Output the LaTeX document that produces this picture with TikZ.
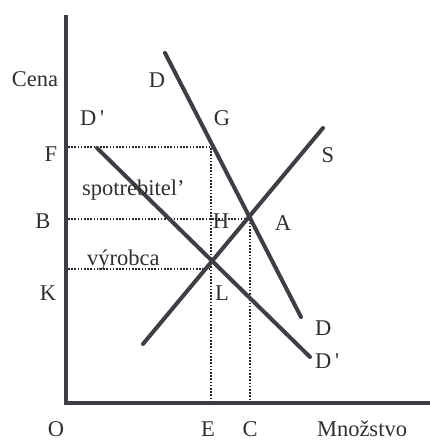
\documentclass[tikz,border=0pt]{standalone}
\usepackage{fontspec}
\setmainfont{Liberation Serif}
\definecolor{ink}{HTML}{3E3E44}
\definecolor{txt}{HTML}{303030}
\begin{document}
\begin{tikzpicture}[x=1pt,y=-1pt,
  axisline/.style={draw=ink,line width=4.6pt},
  curve/.style={draw=ink,line width=4pt,line cap=round},
  guide/.style={draw=black!85,line width=2.2pt,dash pattern=on 1.6pt off 1.6pt},
  lbl/.style={anchor=base,inner sep=0pt,text=txt,font=\fontsize{22.5}{27}\selectfont},
  slbl/.style={anchor=base west,inner sep=0pt,text=txt,font=\fontsize{22.5}{27}\selectfont}]
\useasboundingbox (0,0) rectangle (430,441);
% axes
\coordinate (Otop) at (66,15);
\coordinate (Oo) at (66,403);
\coordinate (Xend) at (430,403);
\draw[axisline] (Otop) -- (66,405.3) (63.7,403) -- (Xend);
% curve end points
\coordinate (Dtop) at (165,53);
\coordinate (Dbot) at (301,317);
\coordinate (D1top) at (97,148);
\coordinate (D1bot) at (310,357);
\coordinate (Sbot) at (143,344);
\coordinate (Stop) at (323,128);
% guide points
\coordinate (Fy) at (68,147);
\coordinate (Gp) at (211,147);
\coordinate (Ex) at (211,401);
\coordinate (By) at (68,219);
\coordinate (Ap) at (250,219);
\coordinate (Cx) at (250,401);
\coordinate (Ky) at (68,269);
\coordinate (Kp) at (211,269);
% dotted guides
\draw[guide] (Fy) -- (Gp) -- (Ex);
\draw[guide] (By) -- (Ap) -- (Cx);
\draw[guide] (Ky) -- (Kp);
% curves
\draw[curve] (Dtop) -- (Dbot);
\draw[curve] (D1top) -- (D1bot);
\draw[curve] (Sbot) -- (Stop);
% labels
\node[lbl] (cena) at (35,87) {Cena};
\node[lbl] (dT) at (157,88) {D};
\node[slbl] (d1T) at (80,125) {D\,\textquotesingle};
\node[lbl] (g) at (222,125) {G};
\node[lbl] (s) at (328,162) {S};
\node[lbl] (f) at (51,161) {F};
\node[lbl] (b) at (43,228) {B};
\node[lbl] (k) at (48,300) {K};
\node[slbl] (spot) at (82,195) {spotrebitel’};
\node[slbl] (vyr) at (87,265) {výrobca};
\node[lbl] (h) at (221,228) {H};
\node[lbl] (a) at (283,230) {A};
\node[lbl] (l) at (222,300) {L};
\node[slbl] (dB) at (315,335) {D};
\node[slbl] (d1B) at (315,368) {D\,\textquotesingle};
\node[lbl] (o) at (56,436) {O};
\node[lbl] (e) at (208,436) {E};
\node[lbl] (c) at (250,436) {C};
\node[lbl] (mn) at (362,436) {Množstvo};
\end{tikzpicture}
\end{document}
